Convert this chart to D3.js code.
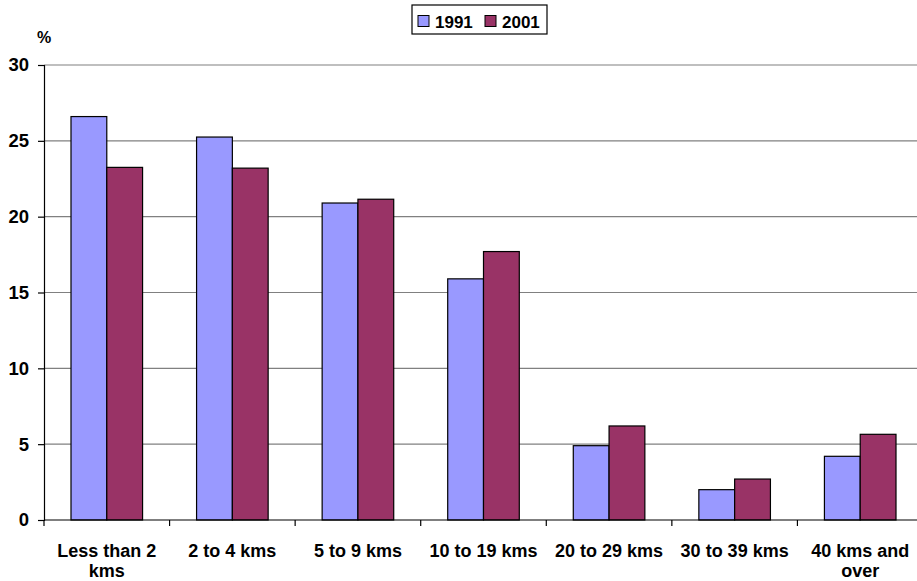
<!DOCTYPE html>
<html><head><meta charset="utf-8">
<script src="https://cdn.jsdelivr.net/npm/d3@7"></script>
<style>body{margin:0;background:#fff}svg{display:block}text{font-family:"Liberation Sans",Arial,sans-serif;font-weight:bold}</style>
</head><body><svg id="c" width="917" height="581"></svg>
<script>
const categories = ["Less than 2 kms","2 to 4 kms","5 to 9 kms","10 to 19 kms","20 to 29 kms","30 to 39 kms","40 kms and over"];
const labelLines = [["Less than 2","kms"],["2 to 4 kms"],["5 to 9 kms"],["10 to 19 kms"],["20 to 29 kms"],["30 to 39 kms"],["40 kms and","over"]];
const seriesNames = ["1991","2001"];
const values1991 = [26.6,25.25,20.9,15.9,4.9,2.0,4.2];
const values2001 = [23.25,23.2,21.15,17.7,6.2,2.7,5.65];
const yTicks = [0,5,10,15,20,25,30];
const colors = ["#9999ff","#993366"];

const svg = d3.select("#c");
const L=44, R=923, T=65, B=520;
const x = d3.scaleBand().domain(categories).range([L,R]).paddingInner(0.43).paddingOuter(0.215);
const xs = d3.scaleBand().domain(seriesNames).range([0,x.bandwidth()]);
const y = d3.scaleLinear().domain([0,30]).range([B,T]);

// gridlines
svg.append("g").selectAll("line").data(yTicks.filter(d=>d>0)).join("line")
  .attr("x1",L).attr("x2",R).attr("y1",d=>y(d)).attr("y2",d=>y(d))
  .attr("stroke","#808080").attr("stroke-width",1.2);

// bars
const data = categories.map((c,i)=>({c, v:[values1991[i],values2001[i]]}));
const g = svg.append("g").selectAll("g").data(data).join("g").attr("transform",d=>`translate(${x(d.c)},0)`);
g.selectAll("rect").data(d=>d.v.map((v,j)=>({s:seriesNames[j],v,j}))).join("rect")
  .attr("x",d=>xs(d.s)).attr("width",xs.bandwidth()).attr("y",d=>y(d.v)).attr("height",d=>B-y(d.v))
  .attr("fill",d=>colors[d.j]).attr("stroke","#000").attr("stroke-width",1.2);

// y axis
const ya = svg.append("g").attr("transform",`translate(${L},0)`)
  .call(d3.axisLeft(y).tickValues(yTicks).tickSize(6).tickPadding(9));
ya.select(".domain").attr("stroke","#000").attr("stroke-width",1.2);
ya.selectAll(".tick line").attr("stroke","#000").attr("stroke-width",1.2);
ya.selectAll("text").attr("font-size",18.5).attr("fill","#000").attr("font-family","Liberation Sans, Arial, sans-serif").attr("font-weight","bold");

// x axis
const xa = svg.append("g").attr("transform",`translate(0,${B})`);
xa.append("line").attr("x1",L).attr("x2",R).attr("stroke","#000").attr("stroke-width",1.2);
const step = x.step();
const bounds = d3.range(categories.length+1).map(i=>L+i*step);
xa.selectAll("line.t").data(bounds).join("line").attr("class","t")
  .attr("x1",d=>d).attr("x2",d=>d).attr("y1",0).attr("y2",6).attr("stroke","#000").attr("stroke-width",1.2);
xa.selectAll("text").data(categories).join("text")
  .attr("x",d=>x(d)+x.bandwidth()/2).attr("y",37).attr("text-anchor","middle").attr("font-size",18)
  .each(function(d,i){
    d3.select(this).selectAll("tspan").data(labelLines[i]).join("tspan")
      .attr("x",x(d)+x.bandwidth()/2).attr("dy",(t,k)=>k===0?0:20).text(t=>t);
  });

// % label
svg.append("text").attr("x",37).attr("y",43).attr("font-size",16).text("%");

// legend
const lg = svg.append("g").attr("transform","translate(412,5)");
lg.append("rect").attr("width",135).attr("height",29).attr("fill","#fff").attr("stroke","#000").attr("stroke-width",1.2);
const li = lg.selectAll("g").data(seriesNames).join("g").attr("transform",(d,i)=>`translate(${6+i*67},0)`);
li.append("rect").attr("x",0).attr("y",10.5).attr("width",11).attr("height",11).attr("fill",(d,i)=>colors[i]).attr("stroke","#000");
li.append("text").attr("x",17).attr("y",22.5).attr("font-size",17).text(d=>d);
</script></body></html>
